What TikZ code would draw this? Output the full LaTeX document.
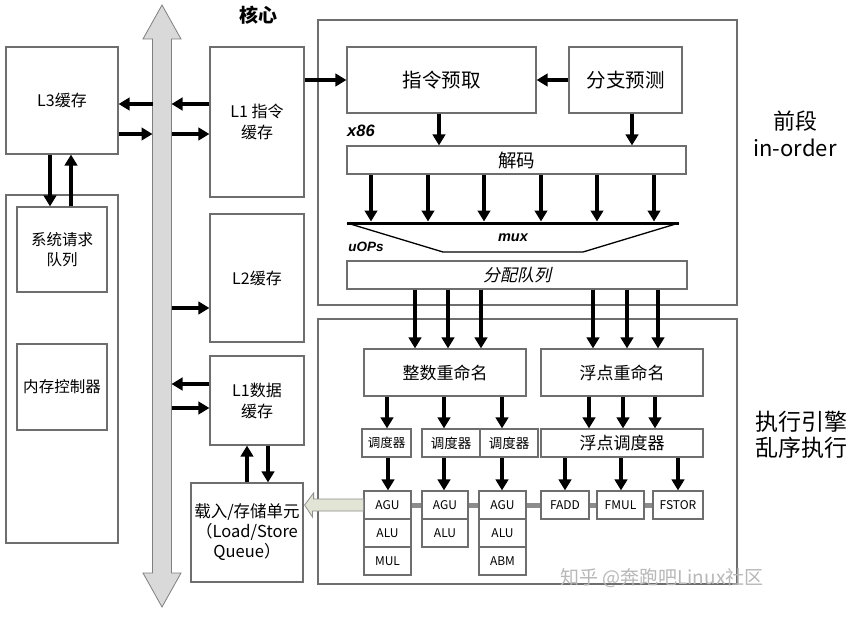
\documentclass[tikz,border=0pt]{standalone}
\usepackage{fontspec}
\setmainfont{Noto Sans CJK SC}
\newfontfamily\cjkit[FakeSlant=0.22]{Noto Sans CJK SC}
\newfontfamily\latf{Liberation Sans}
\usetikzlibrary{arrows.meta}
\newcommand\fsz[2]{\fontsize{#1}{#2}\selectfont}
\definecolor{boxline}{HTML}{6E6E6E}
\definecolor{busfill}{HTML}{D9D9D9}
\definecolor{busline}{HTML}{7F7F7F}
\definecolor{hollowfill}{HTML}{E2E5D6}
\definecolor{hollowline}{HTML}{8F8F8F}
\definecolor{execbus}{HTML}{8C8C8C}
\definecolor{wmark}{HTML}{B8B8B8}
\tikzset{
  box/.style={draw=boxline, line width=1.2pt, fill=white, inner sep=0pt, align=center, font=\fsz{16}{21}},
  wh/.style 2 args={minimum width=#1pt, minimum height=#2pt},
  arr/.style={line width=4.5pt, -{Triangle[length=11pt,width=12.5pt]}},
  lbl/.style={inner sep=0pt, align=center},
  unit/.style={box, font=\fsz{12}{14}}
}
\begin{document}
\begin{tikzpicture}[x=1pt,y=-1pt]
\fill[white] (0,0) rectangle (861,618);
\useasboundingbox (0,0) rectangle (861,618);

% system bus (double arrow)
\draw[draw=busline, fill=busfill, line width=0.8pt]
  (162,5) -- (181,39) -- (171.5,39) -- (171.5,573) -- (181,573) -- (162,607)
  -- (143,573) -- (152.5,573) -- (152.5,39) -- (143,39) -- cycle;
\coordinate (busL) at (152.5,300);
\coordinate (busR) at (171.5,300);

% left column
\node[box, wh={112}{107}] (L3) at (62,100.5) {L3缓存};
\node[box, wh={112}{348}] (outerL) at (62,369) {};
\node[box, wh={90}{85}, font=\fsz{15.5}{20}] (sysq) at (62,249.5) {系统请求\\队列};
\node[box, wh={90}{86}, font=\fsz{15.5}{20}] (mem) at (62,387) {内存控制器};

% caches
\node[box, wh={94}{150}] (L1I) at (257,122) {L1 指令\\缓存};
\node[box, wh={94}{128}] (L2) at (257,278) {L2缓存};
\node[box, wh={94}{89}] (L1D) at (257,400.5) {L1数据\\缓存};
\node[box, wh={112}{99}, font=\fsz{16.5}{20}] (LS) at (247,532.5) {载入/存储单元\\（Load/Store\\Queue）};

% outer frames
\node[box, wh={419}{285}] (front) at (527.5,162.5) {};
\node[box, wh={419}{265}] (exec) at (527.5,451.5) {};

% front end
\node[box, wh={189}{66}, font=\fsz{19.5}{22}] (fetch) at (441.5,80) {指令预取};
\node[box, wh={113}{66}, font=\fsz{19.5}{22}] (bpred) at (625.5,80) {分支预测};
\node[box, wh={339}{28}, font=\fsz{18.5}{20}] (decode) at (516.5,160) {解码};
\coordinate (muxTL) at (347,223);
\coordinate (muxTR) at (679,223);
\coordinate (muxBL) at (443,252);
\coordinate (muxBR) at (583,252);
\draw[line width=1.3pt] (muxTL) -- (muxBL) -- (muxBR) -- (muxTR);
\draw[line width=3pt] (muxTL) -- (muxTR);
\node[box, wh={340}{28}, font=\cjkit\fsz{17}{20}] (alloc) at (517,275) {分配队列};

\node[lbl, font=\latf\bfseries\itshape\fsz{16.5}{18}] (x86) at (361,131) {x86};
\node[lbl, font=\latf\bfseries\itshape\fsz{13.5}{16}] (uops) at (366,247) {uOPs};
\node[lbl, font=\latf\bfseries\itshape\fsz{14.5}{16}] (muxl) at (513,238) {mux};
\node[lbl, font=\bfseries\fsz{19}{20}] (core) at (258,15) {核心};

% execution engine
\node[box, wh={162}{47}, font=\fsz{17}{20}] (intren) at (445,372.5) {整数重命名};
\node[box, wh={162}{47}, font=\fsz{17}{20}] (fpren) at (622,372.5) {浮点重命名};
\node[box, wh={49}{28}, font=\fsz{12.5}{14}] (s1) at (386.5,443) {调度器};
\node[box, wh={58}{28}, font=\fsz{13.5}{15}] (s2) at (451,443) {调度器};
\node[box, wh={58}{28}, font=\fsz{13.5}{15}] (s3) at (509,443) {调度器};
\node[box, wh={162}{28}, font=\fsz{17}{20}] (fpsched) at (622,443) {浮点调度器};

% execution bus line
\draw[execbus, line width=5pt] (387.5,505) -- (678,505);

\node[unit, wh={47}{28}] (c1a) at (387.5,505) {AGU};
\node[unit, wh={47}{28}] (c1b) at (387.5,533) {ALU};
\node[unit, wh={47}{28}] (c1c) at (387.5,561) {MUL};
\node[unit, wh={46}{28}] (c2a) at (445,505) {AGU};
\node[unit, wh={46}{28}] (c2b) at (445,533) {ALU};
\node[unit, wh={47}{28}] (c3a) at (502.5,505) {AGU};
\node[unit, wh={47}{28}] (c3b) at (502.5,533) {ALU};
\node[unit, wh={47}{28}] (c3c) at (502.5,561) {ABM};
\node[unit, wh={48}{28}] (fadd) at (565,505) {FADD};
\node[unit, wh={47}{28}] (fmul) at (620.5,505) {FMUL};
\node[unit, wh={50}{28}] (fstor) at (678,505) {FSTOR};

% hollow arrow to load/store unit
\coordinate (htip) at ([xshift=1pt]LS.east |- c1a.west);
\draw[draw=hollowline, fill=hollowfill, line width=0.8pt]
  (htip) -- ++(9,-12) -- ++(0,6) -- (c1a.west |- 0,499) -- (c1a.west |- 0,511)
  -- ++(-51,0) -- ++(0,6) -- cycle;

% side labels
\node[lbl, font=\fsz{22}{27}] (fe) at (795,133.5) {前段\\in-order};
\node[lbl, font=\fsz{23}{26}] (ee) at (801,435) {执行引擎\\乱序执行};

% watermark
\node[lbl, anchor=west, text=wmark, font=\fsz{19}{20}] (wm) at (560,578) {知乎 @奔跑吧Linux社区};

% arrows: front end
\draw[arr] (L1I.east |- fetch.west) -- (fetch.west);
\draw[arr] (bpred.west) -- (fetch.east);
\draw[arr] (439,0 |- fetch.south) -- (439,0 |- decode.north);
\draw[arr] (632,0 |- bpred.south) -- (632,0 |- decode.north);
\foreach \x in {371,428,484,541,597,654}
  \draw[arr, shorten >=1.5pt] (\x,0 |- decode.south) -- (\x,0 |- muxTL);
\foreach \x in {415,448,481}
  \draw[arr] (\x,0 |- alloc.south) -- (\x,0 |- intren.north);
\foreach \x in {593,627,658}
  \draw[arr] (\x,0 |- alloc.south) -- (\x,0 |- fpren.north);
\foreach \x/\t in {387/s1, 444/s2, 502/s3}
  \draw[arr] (\x,0 |- intren.south) -- (\x,0 |- \t.north);
\foreach \x in {589,623,655}
  \draw[arr] (\x,0 |- fpren.south) -- (\x,0 |- fpsched.north);
\foreach \x/\s/\t in {388/s1/c1a, 444/s2/c2a, 502/s3/c3a, 565/fpsched/fadd, 621/fpsched/fmul, 678/fpsched/fstor}
  \draw[arr] (\x,0 |- \s.south) -- (\x,0 |- \t.north);

% arrows: bus and caches
\draw[arr] (busL |- 0,104) -- (L3.east |- 0,104);
\draw[arr] (L3.east |- 0,134) -- (busL |- 0,134);
\draw[arr] (L1I.west |- 0,104) -- (busR |- 0,104);
\draw[arr] (busR |- 0,134) -- (L1I.west |- 0,134);
\draw[arr] (busR |- 0,308) -- (L2.west |- 0,308);
\draw[arr] (L1D.west |- 0,384) -- (busR |- 0,384);
\draw[arr] (busR |- 0,408) -- (L1D.west |- 0,408);
\draw[arr] (50,0 |- L3.south) -- (50,0 |- sysq.north);
\draw[arr] (71,0 |- sysq.north) -- (71,0 |- L3.south);
\draw[arr] (247,0 |- LS.north) -- (247,0 |- L1D.south);
\draw[arr] (268,0 |- L1D.south) -- (268,0 |- LS.north);
\end{tikzpicture}
\end{document}
